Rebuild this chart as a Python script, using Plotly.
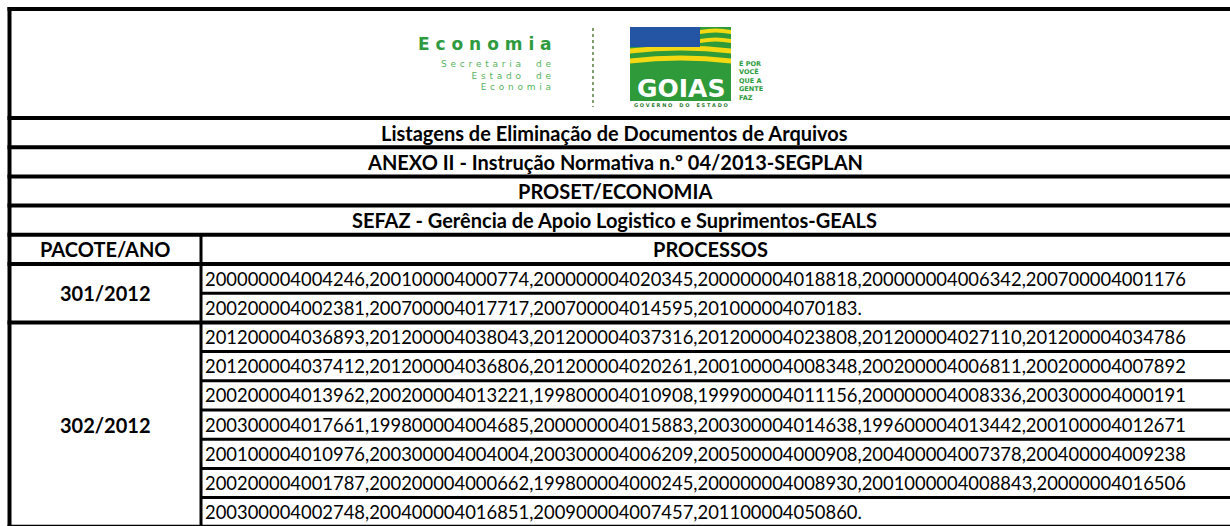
import plotly.graph_objects as go

# ------------------------------------------------------------------ data
header_titles = [
    "Listagens de Eliminação de Documentos de Arquivos",
    "ANEXO II - Instrução Normativa n.º 04/2013-SEGPLAN",
    "PROSET/ECONOMIA",
    "SEFAZ - Gerência de Apoio Logistico e Suprimentos-GEALS",
]
column_headers = ["PACOTE/ANO", "PROCESSOS"]
pacotes = ["301/2012", "302/2012"]
processos_301 = [
    "200000004004246,200100004000774,200000004020345,200000004018818,200000004006342,200700004001176",
    "200200004002381,200700004017717,200700004014595,201000004070183.",
]
processos_302 = [
    "201200004036893,201200004038043,201200004037316,201200004023808,201200004027110,201200004034786",
    "201200004037412,201200004036806,201200004020261,200100004008348,200200004006811,200200004007892",
    "200200004013962,200200004013221,199800004010908,199900004011156,200000004008336,200300004000191",
    "200300004017661,199800004004685,200000004015883,200300004014638,199600004013442,200100004012671",
    "200100004010976,200300004004004,200300004006209,200500004000908,200400004007378,200400004009238",
    "200200004001787,200200004000662,199800004000245,200000004008930,2001000004008843,20000004016506",
    "200300004002748,200400004016851,200900004007457,201100004050860.",
]
processos = [processos_301, processos_302]

logo_title = "Economia"
logo_subtitle = ["Secretaria de", "Estado de", "Economia"]
logo_state = "GOIAS"
logo_gov = "GOVERNO DO ESTADO"
logo_slogan = ["É POR", "VOCÊ", "QUE A", "GENTE", "FAZ"]

# ------------------------------------------------------------------ geometry / style
W, H = 1230, 526
X_LEFT, X_DIV, X_RIGHT, X_END = 9.5, 201.0, 1220.0, 1240.0
Y_TOP, Y_LOGO = 9.0, 118.0
ROW_H = 29.2
FONT = "Lato"
FS = 18.4
FS_B = 20
BLACK = "#000000"
NBSP = "\u00a0"
HAIR = "\u200a"

fig = go.Figure()
shapes = []
annotations = []


def hline(y, x0, x1, w=3):
    shapes.append(dict(type="line", xref="x", yref="y", x0=x0, x1=x1, y0=y, y1=y,
                       line=dict(color=BLACK, width=w)))


def vline(x, y0, y1, w=3):
    shapes.append(dict(type="line", xref="x", yref="y", x0=x, x1=x, y0=y0, y1=y1,
                       line=dict(color=BLACK, width=w)))


def text(x, y, s, size=FS, bold=False, xanchor="center", color=BLACK, family=FONT,
         yanchor="middle", align="center"):
    annotations.append(dict(x=x, y=y, xref="x", yref="y", text=(f"<b>{s}</b>" if bold else s),
                            showarrow=False, xanchor=xanchor, yanchor=yanchor, align=align,
                            font=dict(family=family, size=size, color=color)))


def spaced(s, gap=NBSP):
    return gap.join(gap * 2 if c == " " else c for c in s)


# outer border + logo row
hline(Y_TOP, X_LEFT - 2, X_END, 4)
vline(X_LEFT, Y_TOP - 2, H + 10, 4)
hline(Y_LOGO, X_LEFT - 2, X_END, 4)

# title rows
for i, t in enumerate(header_titles):
    yc = Y_LOGO + (i + 0.5) * ROW_H
    text((X_LEFT + X_RIGHT) / 2, yc, t, size=FS_B, bold=True)
    hline(Y_LOGO + (i + 1) * ROW_H, X_LEFT - 2, X_END, 4)

# column header row
hdr_top = Y_LOGO + len(header_titles) * ROW_H
hdr_c = hdr_top + ROW_H / 2
text((X_LEFT + X_DIV) / 2, hdr_c, column_headers[0], size=FS_B, bold=True)
text((X_DIV + X_RIGHT) / 2, hdr_c, column_headers[1], size=FS_B, bold=True)
data_top = hdr_top + ROW_H
hline(data_top, X_LEFT - 2, X_END, 4)
vline(X_DIV, hdr_top, H + 10, 3)

# data rows
r = 0
for pac, rows in zip(pacotes, processos):
    g_top = data_top + r * ROW_H
    for j, line in enumerate(rows):
        yc = data_top + (r + j + 0.5) * ROW_H
        text(X_DIV + 1.5, yc, line, xanchor="left")
        if j < len(rows) - 1:
            hline(data_top + (r + j + 1) * ROW_H, X_DIV, X_END, 3)
    g_bot = data_top + (r + len(rows)) * ROW_H
    text((X_LEFT + X_DIV) / 2, (g_top + g_bot) / 2, pac, size=FS_B, bold=True)
    hline(g_bot, X_LEFT - 2, X_END, 4)
    r += len(rows)

# ------------------------------------------------------------------ logo
GREEN = "#2e9b3e"
LGREEN = "#57b35c"
text(554, 56, spaced(logo_title), size=17, bold=True, xanchor="right", color=GREEN,
     family="DejaVu Sans", yanchor="bottom")
text(554, 57, "<br>".join(spaced(s, NBSP + HAIR) for s in logo_subtitle), size=9,
     xanchor="right", color=LGREEN, family="DejaVu Sans", align="right", yanchor="top")
shapes.append(dict(type="line", xref="x", yref="y", x0=593, x1=593, y0=28, y1=107,
                   line=dict(color="#7f9e6c", width=2, dash="dot")))

FX0, FX1, FY0, FY1 = 630, 731, 27, 101
shapes.append(dict(type="rect", xref="x", yref="y", x0=FX0, x1=FX1, y0=FY0, y1=FY1,
                   line=dict(width=0), fillcolor="#2f9a3a"))


def stripe(x0, x1, y, t, amp, color):
    xm = (x0 + x1) / 2
    p = (f"M {x0},{y - t / 2} Q {xm},{y - t / 2 - amp} {x1},{y - t / 2} "
         f"L {x1},{y + t / 2} Q {xm},{y + t / 2 - amp} {x0},{y + t / 2} Z")
    shapes.append(dict(type="path", xref="x", yref="y", path=p, line=dict(width=0), fillcolor=color))


YEL = "#f4d812"
stripe(700, FX1, 32, 4, 3, YEL)
stripe(700, FX1, 41, 4, 3, YEL)
stripe(FX0, FX1, 51, 5, 6, YEL)
stripe(FX0, FX1, 61, 5, 6, YEL)
shapes.append(dict(type="rect", xref="x", yref="y", x0=FX0, x1=700, y0=FY0, y1=47,
                   line=dict(width=0), fillcolor="#2455a4"))
fig.add_trace(go.Scatter(x=[640, 653, 668, 642, 688], y=[33, 32, 37, 42, 40], mode="markers",
                         marker=dict(symbol="star", size=8, color="white"), hoverinfo="skip",
                         showlegend=False))
text((FX0 + FX1) / 2, 88, logo_state, size=25, bold=True, color="white", family="DejaVu Sans")
text((FX0 + FX1) / 2, 104.5, spaced(logo_gov), size=5, bold=True, color="#2e7d32", family="DejaVu Sans")
text(737, 80, "<br>".join(logo_slogan), size=6.5, bold=True, xanchor="left", color="#2e9b3e",
     family="DejaVu Sans", align="left")

fig.update_layout(
    width=W, height=H, margin=dict(l=0, r=0, t=0, b=0),
    paper_bgcolor="white", plot_bgcolor="white",
    xaxis=dict(range=[0, W], visible=False, fixedrange=True),
    yaxis=dict(range=[H, 0], visible=False, fixedrange=True),
    shapes=shapes, annotations=annotations, showlegend=False,
)

fig.write_html("out.html", config={"displayModeBar": False},
               post_script="document.body.style.margin='0';document.body.style.overflow='hidden';")
